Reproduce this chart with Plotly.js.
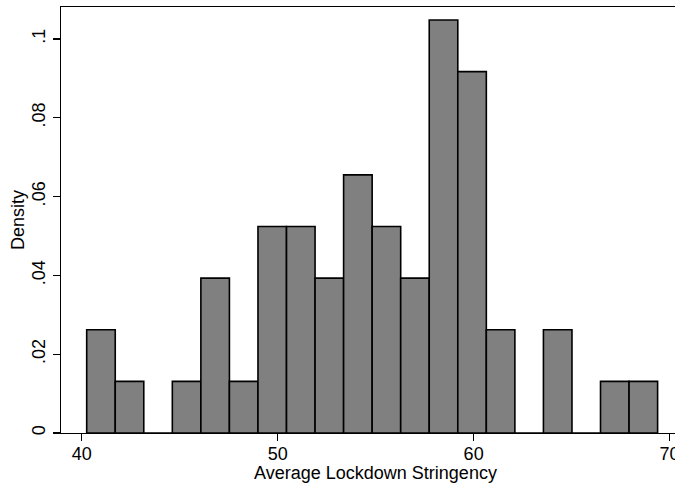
<!DOCTYPE html>
<html>
<head>
<meta charset="utf-8">
<script src="https://cdn.plot.ly/plotly-3.0.1.min.js"></script>
<style>
html,body{margin:0;padding:0;overflow:hidden;background:#fff;}
#chart{width:700px;height:483px;}
</style>
</head>
<body>
<div id="chart"></div>
<script>
// Histogram bins (Average Lockdown Stringency), density per bin
const binStart = 40.255;
const binWidth = 1.4566;
const density = [0.0262, 0.0131, 0, 0.0131, 0.0393, 0.0131, 0.0524, 0.0524, 0.0393, 0.0655,
                 0.0524, 0.0393, 0.1048, 0.0917, 0.0262, 0, 0.0262, 0, 0.0131, 0.0131];
const xTickVals = [40, 50, 60, 70];
const xTickText = ["40", "50", "60", "70"];
const yTickVals = [0, 0.02, 0.04, 0.06, 0.08, 0.1];
const yTickText = ["0", ".02", ".04", ".06", ".08", ".1"];

const centers = density.map((d, i) => binStart + binWidth * (i + 0.5));
const fontFam = "Liberation Sans, Arial, Helvetica, sans-serif";

const trace = {
  type: "bar",
  x: centers,
  y: density,
  width: density.map(() => binWidth),
  marker: {color: "#808080", line: {color: "#000000", width: 1.6}},
  hoverinfo: "skip"
};

const layout = {
  width: 700, height: 483,
  margin: {l: 61, r: 10, t: 7, b: 50, pad: 0},
  paper_bgcolor: "#ffffff", plot_bgcolor: "#ffffff",
  showlegend: false,
  font: {family: fontFam, size: 18, color: "#000"},
  xaxis: {
    range: [38.944, 71.04],
    tickvals: xTickVals, ticktext: xTickText,
    ticks: "outside", ticklen: 7, tickwidth: 1.3, tickcolor: "#000",
    ticklabelstandoff: -3,
    showline: true, linecolor: "#000", linewidth: 1.4, mirror: true,
    showgrid: false, zeroline: false,
    tickfont: {family: fontFam, size: 18, color: "#000"},
    title: {text: "Average Lockdown Stringency", font: {family: fontFam, size: 18, color: "#000"}, standoff: 0}
  },
  yaxis: {
    range: [0, 0.1081],
    tickvals: yTickVals, ticktext: yTickText,
    tickangle: -90,
    ticks: "outside", ticklen: 7, tickwidth: 1.3, tickcolor: "#000",
    showline: true, linecolor: "#000", linewidth: 1.4, mirror: true,
    showgrid: false, zeroline: false,
    tickfont: {family: fontFam, size: 18, color: "#000"},
    title: {text: "Density", font: {family: fontFam, size: 18, color: "#000"}, standoff: 0}
  }
};

Plotly.newPlot("chart", [trace], layout, {staticPlot: true, displayModeBar: false});
</script>
</body>
</html>
